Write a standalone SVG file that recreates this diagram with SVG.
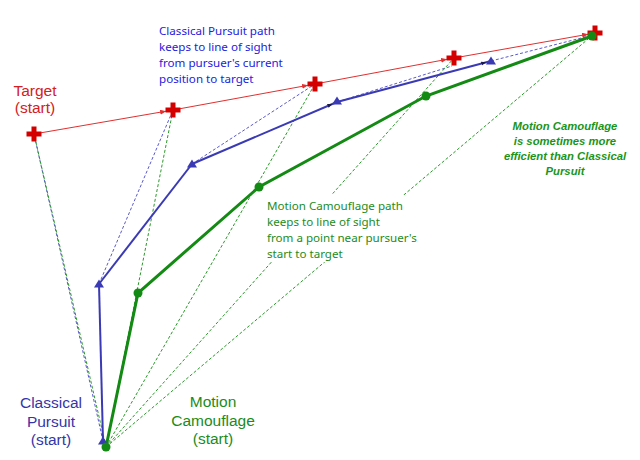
<svg xmlns="http://www.w3.org/2000/svg" xmlns:xlink="http://www.w3.org/1999/xlink" width="640" height="460" viewBox="0 0 640 460">
<style>
.red{stroke:#e03030;stroke-width:1;fill:none}
.bsolid{stroke:#3a3ab4;stroke-width:2;fill:none}
.bdash{stroke:#5a5acc;stroke-width:1;stroke-dasharray:3,2;fill:none}
.gsolid{stroke:#138a13;stroke-width:3;fill:none}
.gdash{stroke:#2a9a2a;stroke-width:1;stroke-dasharray:3,2;fill:none}
.cross{stroke:#d40000;stroke-width:5;fill:none}
.tri{fill:#3a3ab4}
.dot{fill:#138a13}
.lab{font-family:"Liberation Sans",Arial,sans-serif;font-size:15.5px;text-anchor:middle}
.para{font-family:"Noto Sans","Open Sans",sans-serif;font-size:11.6px}
.note{font-family:"Liberation Sans",Arial,sans-serif;font-size:11.3px;font-weight:bold;font-style:italic;text-anchor:middle;fill:#1a951a}
</style>
<defs>
<marker id="ar" markerUnits="userSpaceOnUse" markerWidth="20" markerHeight="10" refX="13" refY="2.5" orient="auto"><path d="M0,0 L6,2.5 L0,5 z" fill="#e03030"/></marker>
<marker id="ab" markerUnits="userSpaceOnUse" markerWidth="20" markerHeight="10" refX="10" refY="2" orient="auto"><path d="M0,0 L5,2 L0,4 z" fill="#1a1a50"/></marker>
<path id="crs" class="cross" d="M-7.5,0 H7.5 M0,-7.5 V7.5"/>
<path id="tr" class="tri" d="M0,-4.5 L5,3.5 L-5,3.5 z"/>
</defs>
<g id="connectors">
<line class="red" x1="34" y1="134" x2="173" y2="110" marker-end="url(#ar)"/>
<line class="red" x1="173" y1="110" x2="315" y2="84" marker-end="url(#ar)"/>
<line class="red" x1="315" y1="84" x2="454" y2="58" marker-end="url(#ar)"/>
<line class="red" x1="454" y1="58" x2="595" y2="33" marker-end="url(#ar)"/>
<line class="bdash" x1="103" y1="441" x2="34" y2="134"/>
<line class="bdash" x1="99" y1="284" x2="173" y2="110"/>
<line class="bdash" x1="192" y1="164" x2="315" y2="84"/>
<line class="bdash" x1="337" y1="102" x2="452" y2="66"/>
<line class="bdash" x1="491" y1="61" x2="593" y2="35"/>
<line class="gdash" x1="106" y1="447" x2="34" y2="134"/>
<line class="gdash" x1="106" y1="447" x2="173" y2="110"/>
<line class="gdash" x1="106" y1="447" x2="315" y2="84"/>
<line class="gdash" x1="106" y1="447" x2="454" y2="58"/>
<line class="gdash" x1="106" y1="447" x2="594" y2="34"/>
<line class="bsolid" x1="103" y1="441" x2="99" y2="284"/>
<line class="bsolid" x1="99" y1="284" x2="192" y2="164"/>
<line class="bsolid" x1="192" y1="164" x2="337" y2="102" marker-end="url(#ab)"/>
<line class="bsolid" x1="337" y1="102" x2="491" y2="61" marker-end="url(#ab)"/>
<polyline class="gsolid" points="106,447 138,293 259,187 426,96 592,36"/>
</g>
<g id="targets">
<g id="t0"><use xlink:href="#crs" x="34" y="134"/></g>
<g id="t1"><use xlink:href="#crs" x="173" y="110"/></g>
<g id="t2"><use xlink:href="#crs" x="315" y="84"/></g>
<g id="t3"><use xlink:href="#crs" x="454" y="58"/></g>
<g id="t4"><use xlink:href="#crs" x="595" y="33"/></g>
</g>
<g id="pursuer">
<g id="p0"><use xlink:href="#tr" x="103" y="441"/></g>
<g id="p1"><use xlink:href="#tr" x="99" y="284"/></g>
<g id="p2"><use xlink:href="#tr" x="192" y="164"/></g>
<g id="p3"><use xlink:href="#tr" x="337" y="101"/></g>
<g id="p4"><use xlink:href="#tr" x="491" y="61"/></g>
</g>
<g id="camouflage">
<g id="m0"><circle class="dot" cx="106" cy="447" r="4.5"/></g>
<g id="m1"><circle class="dot" cx="138" cy="293" r="4.5"/></g>
<g id="m2"><circle class="dot" cx="259" cy="187" r="4.5"/></g>
<g id="m3"><circle class="dot" cx="426" cy="96" r="4.5"/></g>
<g id="m4"><circle class="dot" cx="592" cy="36" r="4.5"/></g>
</g>
<g id="label-target"><text class="lab" fill="#d42020"><tspan x="35" y="96">Target</tspan><tspan x="35" y="113">(start)</tspan></text></g>
<g id="label-cp-note"><text class="para" fill="#2222dd"><tspan x="159" y="35">Classical Pursuit path</tspan><tspan x="159" y="51">keeps to line of sight</tspan><tspan x="159" y="67">from pursuer's current</tspan><tspan x="159" y="83">position to target</tspan></text></g>
<g id="label-mc-note"><rect x="262" y="195" width="164" height="67" fill="#ffffff"/><text class="para" fill="#1c8c1c"><tspan x="267" y="210">Motion Camouflage path</tspan><tspan x="267" y="226">keeps to line of sight</tspan><tspan x="267" y="242">from a point near pursuer's</tspan><tspan x="267" y="258">start to target</tspan></text></g>
<g id="label-efficient"><text class="note"><tspan x="565" y="130">Motion Camouflage</tspan><tspan x="565" y="145">is sometimes more</tspan><tspan x="565" y="160">efficient than Classical</tspan><tspan x="565" y="175">Pursuit</tspan></text></g>
<g id="label-cp-start"><text class="lab" fill="#3535a8"><tspan x="51" y="408">Classical</tspan><tspan x="51" y="426.5">Pursuit</tspan><tspan x="51" y="445">(start)</tspan></text></g>
<g id="label-mc-start"><text class="lab" fill="#1a8c1a"><tspan x="213" y="407">Motion</tspan><tspan x="213" y="425.5">Camouflage</tspan><tspan x="213" y="444">(start)</tspan></text></g>
</svg>
